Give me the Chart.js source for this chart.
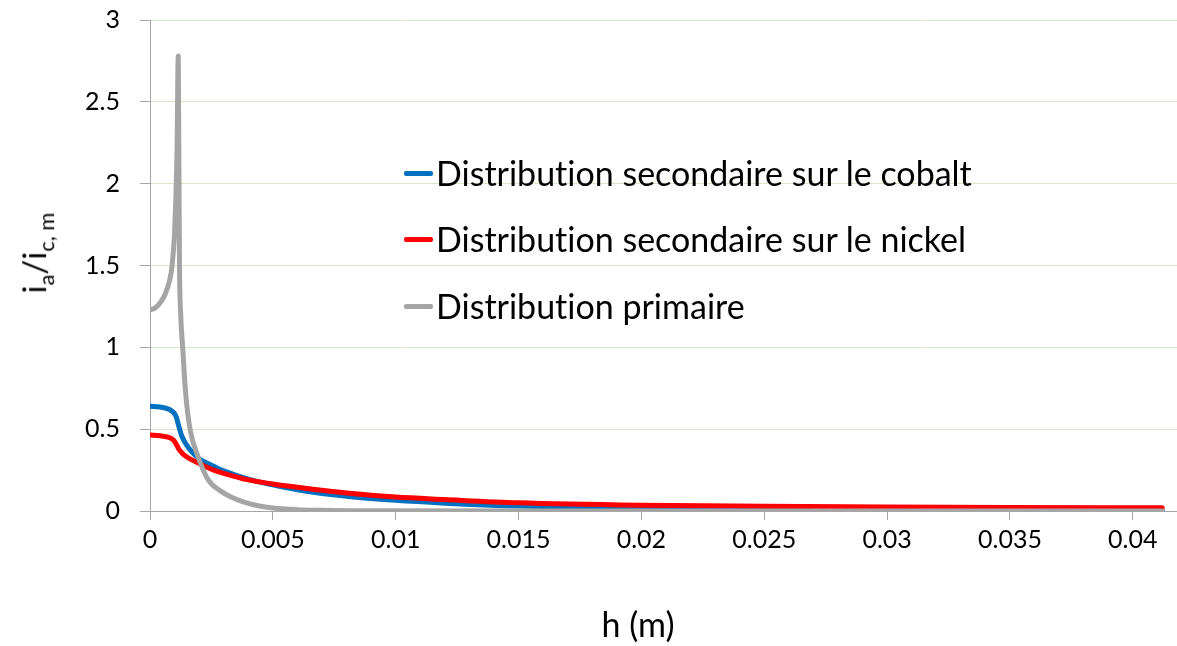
<!DOCTYPE html>
<html>
<head>
<meta charset="utf-8">
<script src="https://cdn.jsdelivr.net/npm/chart.js@4/dist/chart.umd.min.js"></script>
<style>
    body { margin: 0; background: #fff; }
    .chart-wrap { position: relative; width: 1177px; height: 646px; font-family: Lato, 'Open Sans', sans-serif; color: #000; font-variant-ligatures: none; }
    #dist-chart { position: absolute; left: 0; top: 0; }
    .y-title { position: absolute; left: 37px; top: 253px; transform: translate(-50%, -50%) rotate(-90deg); font-size: 33px; white-space: nowrap; line-height: 1; }
    .y-title sub { font-size: 22px; vertical-align: -0.35em; }
    .x-title { position: absolute; left: 638px; top: 624px; transform: translate(-50%, -50%); font-size: 34px; white-space: nowrap; line-height: 1; }
    .legend { position: absolute; left: 404px; top: 173px; }
    .legend-row { position: absolute; left: 0; height: 0; white-space: nowrap; }
    .legend-row span.sw { position: absolute; left: 0; top: -2px; width: 29px; height: 5px; border-radius: 2px; }
    .legend-row span.txt { position: absolute; left: 32px; top: 0; transform: translateY(-50%); font-size: 34px; line-height: 1; }
</style>
</head>
<body>
<div class="chart-wrap">
    <canvas id="dist-chart" width="1177" height="646"></canvas>
    <div class="y-title">i<sub>a</sub>/i<sub>c, m</sub></div>
    <div class="x-title">h (m)</div>
    <div class="legend" id="legend"></div>
</div>
<script>
// distribution secondaire, cobalt
const hCobalt = [0, 0.0004, 0.0007, 0.0009, 0.001, 0.00108, 0.00115, 0.0013, 0.0016, 0.002, 0.0025, 0.003, 0.004, 0.005, 0.006, 0.008, 0.01, 0.012, 0.015, 0.02, 0.025, 0.03, 0.035, 0.0412];
const iCobalt = [0.64, 0.635, 0.625, 0.61, 0.595, 0.57, 0.53, 0.455, 0.38, 0.32, 0.28, 0.245, 0.195, 0.16, 0.13, 0.09, 0.065, 0.048, 0.03, 0.016, 0.01, 0.007, 0.005, 0.004];

// distribution secondaire, nickel
const hNickel = [0, 0.0004, 0.0007, 0.0009, 0.001, 0.00108, 0.00115, 0.0013, 0.0015, 0.002, 0.0025, 0.003, 0.004, 0.005, 0.006, 0.008, 0.01, 0.012, 0.015, 0.02, 0.025, 0.03, 0.035, 0.0412];
const iNickel = [0.464, 0.46, 0.452, 0.44, 0.425, 0.405, 0.383, 0.355, 0.33, 0.29, 0.255, 0.23, 0.19, 0.165, 0.145, 0.11, 0.085, 0.07, 0.05, 0.035, 0.029, 0.025, 0.022, 0.02];

// distribution primaire
const hPrimaire = [0, 0.0002, 0.0004, 0.0006, 0.0008, 0.0009, 0.001, 0.00105, 0.0011, 0.00115, 0.00118, 0.0012, 0.00125, 0.00133, 0.00145, 0.00163, 0.00196, 0.00237, 0.0029, 0.0033, 0.0038, 0.0044, 0.005, 0.006, 0.007, 0.008, 0.01, 0.015, 0.0412];
const iPrimaire = [1.23, 1.24, 1.27, 1.32, 1.41, 1.5, 1.7, 1.9, 2.2, 2.78, 2.0, 1.5, 1.2, 1.0, 0.72, 0.5, 0.33, 0.19, 0.12, 0.085, 0.055, 0.032, 0.018, 0.008, 0.004, 0.002, 0.001, 0, 0];

const seriesNames = ['Distribution secondaire sur le cobalt', 'Distribution secondaire sur le nickel', 'Distribution primaire'];
const seriesColors = ['#0070c0', '#ff0000', '#a5a5a5'];

const xTicks = [0, 0.005, 0.01, 0.015, 0.02, 0.025, 0.03, 0.035, 0.04];
const yTicks = [0, 0.5, 1, 1.5, 2, 2.5, 3];

const toPoints = (hs, vs) => hs.map((h, i) => ({x: h, y: vs[i]}));

const datasets = [
    {label: seriesNames[0], data: toPoints(hCobalt, iCobalt), borderColor: seriesColors[0], order: 3},
    {label: seriesNames[1], data: toPoints(hNickel, iNickel), borderColor: seriesColors[1], order: 2},
    {label: seriesNames[2], data: toPoints(hPrimaire, iPrimaire), borderColor: seriesColors[2], order: 1},
].map(ds => Object.assign(ds, {
    borderWidth: 5,
    pointRadius: 0,
    fill: false,
    cubicInterpolationMode: 'monotone',
    borderCapStyle: 'round',
    borderJoinStyle: 'round',
}));

const tickFont = {family: 'Lato', size: 25};

const ctx = document.getElementById('dist-chart').getContext('2d');
const chart = new Chart(ctx, {
    type: 'line',
    data: {datasets: datasets},
    options: {
        responsive: false,
        animation: false,
        layout: {padding: {top: 20, right: 0, left: 0, bottom: 0}},
        plugins: {
            legend: {display: false},
            tooltip: {enabled: false}
        },
        scales: {
            x: {
                type: 'linear',
                min: 0,
                max: 0.0418,
                afterBuildTicks: scale => { scale.ticks = xTicks.map(v => ({value: v})); },
                ticks: {
                    color: '#000',
                    font: tickFont,
                    padding: 5,
                    maxRotation: 0,
                    autoSkip: false,
                    callback: v => String(v)
                },
                afterFit: scale => { scale.height = 135; },
                grid: {drawOnChartArea: false, drawTicks: true, tickLength: 9, tickColor: '#a6a6a6'},
                border: {color: '#a6a6a6', width: 1}
            },
            y: {
                type: 'linear',
                min: 0,
                max: 3,
                afterBuildTicks: scale => { scale.ticks = yTicks.map(v => ({value: v})); },
                ticks: {
                    color: '#000',
                    font: tickFont,
                    padding: 20,
                    callback: v => String(v)
                },
                // fixed width, and no extra room above/below for the labels
                afterFit: scale => {
                    scale.width = 150;
                    scale.paddingTop = 0;
                    scale.paddingBottom = 0;
                },
                grid: {color: '#d5e9c6', tickColor: '#a6a6a6', tickLength: 10},
                border: {color: '#a6a6a6', width: 1}
            }
        }
    }
});

// legend inside the plot, one row per series
const legendEl = document.getElementById('legend');
const rowY = [0, 66, 133];
chart.data.datasets.forEach((ds, i) => {
    const row = document.createElement('div');
    row.className = 'legend-row';
    row.style.top = rowY[i] + 'px';
    row.innerHTML = `<span class="sw" style="background:${ds.borderColor}"></span><span class="txt">${ds.label}</span>`;
    legendEl.appendChild(row);
});
</script>
</body>
</html>
